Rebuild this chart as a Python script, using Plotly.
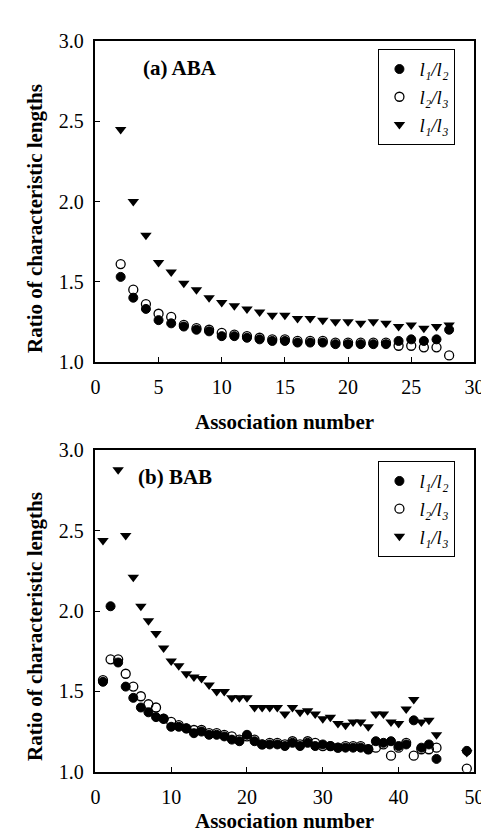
import plotly.graph_objects as go

# ---- Panel (a) ABA ----
xa = list(range(2, 29))
a_l1l2 = [1.53, 1.40, 1.33, 1.26, 1.24, 1.22, 1.20, 1.19, 1.16, 1.16, 1.15, 1.14, 1.13, 1.13,
          1.12, 1.12, 1.12, 1.11, 1.11, 1.11, 1.11, 1.11, 1.13, 1.14, 1.13, 1.14, 1.20]
a_l2l3 = [1.61, 1.45, 1.36, 1.30, 1.28, 1.23, 1.21, 1.20, 1.18, 1.17, 1.16, 1.15, 1.14, 1.14,
          1.13, 1.13, 1.13, 1.12, 1.12, 1.12, 1.12, 1.12, 1.10, 1.10, 1.09, 1.09, 1.04]
a_l1l3 = [2.45, 2.00, 1.79, 1.62, 1.56, 1.49, 1.45, 1.40, 1.37, 1.35, 1.33, 1.31, 1.29, 1.29,
          1.27, 1.27, 1.26, 1.25, 1.25, 1.24, 1.25, 1.24, 1.22, 1.23, 1.21, 1.22, 1.23]

# ---- Panel (b) BAB ----
xb = list(range(1, 46)) + [49]
b_l1l2 = [1.56, 2.03, 1.68, 1.53, 1.46, 1.40, 1.37, 1.34, 1.33, 1.28, 1.28, 1.27, 1.24, 1.25, 1.23,
          1.23, 1.22, 1.20, 1.19, 1.23, 1.19, 1.17, 1.17, 1.17, 1.16, 1.18, 1.16, 1.18, 1.16, 1.17,
          1.16, 1.15, 1.15, 1.15, 1.15, 1.14, 1.19, 1.18, 1.19, 1.16, 1.17, 1.32, 1.15, 1.17, 1.08,
          1.13]
b_l2l3 = [1.57, 1.70, 1.70, 1.61, 1.53, 1.47, 1.42, 1.40, 1.33, 1.31, 1.29, 1.27, 1.26, 1.26, 1.24,
          1.24, 1.23, 1.22, 1.20, 1.22, 1.20, 1.17, 1.18, 1.18, 1.17, 1.19, 1.17, 1.19, 1.18, 1.16,
          1.16, 1.15, 1.16, 1.16, 1.16, 1.14, 1.15, 1.17, 1.10, 1.15, 1.18, 1.10, 1.14, 1.14, 1.15,
          1.02]
b_l1l3 = [2.44, None, 2.88, 2.47, 2.21, 2.03, 1.94, 1.86, 1.77, 1.69, 1.66, 1.61, 1.59, 1.58, 1.54,
          1.50, 1.50, 1.46, 1.46, 1.46, 1.40, 1.40, 1.40, 1.40, 1.36, 1.40, 1.37, 1.38, 1.36, 1.33,
          1.34, 1.30, 1.29, 1.31, 1.31, 1.28, 1.36, 1.36, 1.31, 1.30, 1.39, 1.45, 1.31, 1.32, 1.23,
          1.12]

names = ["l\u2081/l\u2082", "l\u2082/l\u2083", "l\u2081/l\u2083"]
x_title = "Association number"
y_title = "Ratio of characteristic lengths"
panel_labels = ["(a) ABA", "(b) BAB"]
yticks = [1.0, 1.5, 2.0, 2.5, 3.0]
yticktext = ["1.0", "1.5", "2.0", "2.5", "3.0"]

FONT = "Liberation Serif"
W, H = 489, 840


def px_x(p):
    return p / W


def px_y(p):
    return 1 - p / H


fig = go.Figure()

styles = [
    dict(symbol="circle", size=9, color="black", line=dict(color="black", width=1)),
    dict(symbol="circle-open", size=9, color="black", line=dict(color="black", width=1.3)),
    dict(symbol="triangle-down", size=10, color="black", line=dict(color="black", width=0)),
]

for ys, nm, st in zip([a_l1l2, a_l2l3, a_l1l3], names, styles):
    fig.add_trace(go.Scatter(x=xa, y=ys, mode="markers", name=nm, marker=st,
                             xaxis="x", yaxis="y", legend="legend"))
for ys, nm, st in zip([b_l1l2, b_l2l3, b_l1l3], names, styles):
    fig.add_trace(go.Scatter(x=xb, y=ys, mode="markers", name=nm, marker=st,
                             xaxis="x2", yaxis="y2", legend="legend2"))

axis_common = dict(showline=True, linecolor="black", linewidth=1.5, mirror=True,
                   ticks="inside", ticklen=5, tickcolor="black", tickwidth=1.2,
                   showgrid=False, zeroline=False, ticklabelstandoff=6,
                   tickfont=dict(family=FONT, size=20, color="black"))

xl, xr = px_x(85), px_x(476)
legend_common = dict(xanchor="left", yanchor="top", bgcolor="white", bordercolor="black",
                     borderwidth=1,
                     font=dict(family=FONT, size=19, color="black", style="italic"),
                     itemwidth=30)
fig.update_layout(
    width=W, height=H,
    margin=dict(l=0, r=0, t=0, b=0),
    paper_bgcolor="white", plot_bgcolor="white",
    font=dict(family=FONT, color="black"),
    xaxis=dict(domain=[xl, xr], range=[0, 30], tickvals=[0, 5, 10, 15, 20, 25, 30],
               anchor="y", **axis_common),
    yaxis=dict(domain=[px_y(352), px_y(23)], range=[1.0, 3.0],
               tickvals=yticks, ticktext=yticktext, anchor="x", **axis_common),
    xaxis2=dict(domain=[xl, xr], range=[0, 50], tickvals=[0, 10, 20, 30, 40, 50],
                anchor="y2", **axis_common),
    yaxis2=dict(domain=[px_y(773), px_y(443)], range=[1.0, 3.0],
                tickvals=yticks, ticktext=yticktext, anchor="x2", **axis_common),
    legend=dict(x=px_x(377), y=px_y(31), **legend_common),
    legend2=dict(x=px_x(377), y=px_y(454), **legend_common),
    showlegend=True,
)

ann_font = dict(family=FONT, size=21, color="black", weight="bold")
annotations = [
    dict(text=panel_labels[0], x=px_x(132), y=px_y(50), xref="paper", yref="paper",
         xanchor="left", yanchor="middle", showarrow=False, font=ann_font),
    dict(text=panel_labels[1], x=px_x(127), y=px_y(470), xref="paper", yref="paper",
         xanchor="left", yanchor="middle", showarrow=False, font=ann_font),
    dict(text=x_title, x=(xl + xr) / 2, y=px_y(414), xref="paper", yref="paper",
         xanchor="center", yanchor="middle", showarrow=False, font=ann_font),
    dict(text=x_title, x=(xl + xr) / 2, y=px_y(824), xref="paper", yref="paper",
         xanchor="center", yanchor="middle", showarrow=False, font=ann_font),
    dict(text=y_title, x=px_x(22), y=px_y(205), xref="paper",
         yref="paper", xanchor="center", yanchor="middle", textangle=-90, showarrow=False,
         font=ann_font),
    dict(text=y_title, x=px_x(22), y=px_y(624), xref="paper",
         yref="paper", xanchor="center", yanchor="middle", textangle=-90, showarrow=False,
         font=ann_font),
]
fig.update_layout(annotations=annotations)

fig.write_html("out.html")
